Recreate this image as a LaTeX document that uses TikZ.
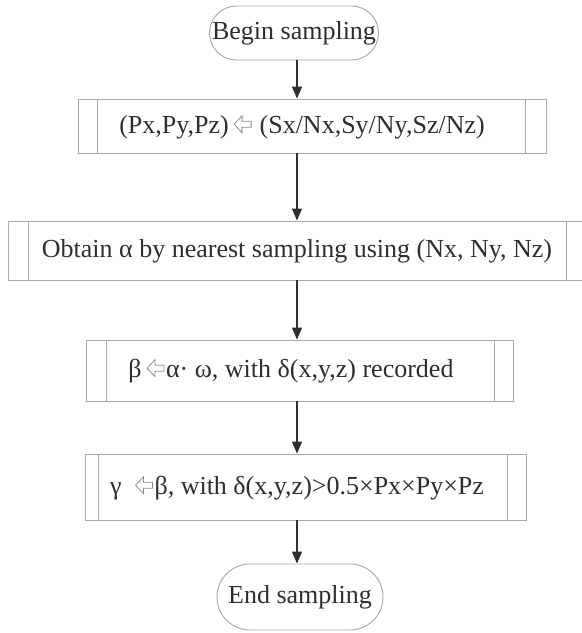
\documentclass[tikz,border=0pt]{standalone}
\usepackage{fontspec}
\setmainfont{Liberation Serif}
\usetikzlibrary{arrows.meta}

\definecolor{boxgrey}{HTML}{A8A8A8}
\definecolor{inkgrey}{HTML}{2E2E2E}
\definecolor{arrowgrey}{HTML}{8C8C8C}

% hollow leftwards arrow used for assignment, built as a small pgf picture
\newsavebox{\assignbox}
\newcommand{\assign}{\usebox{\assignbox}}

\tikzset{
  lin/.store in=\lin, rin/.store in=\rin, lin=19pt, rin=19pt,
  terminal/.style={draw=boxgrey, line width=0.9pt, minimum width=#1, minimum height=54pt,
    rounded corners=27pt, inner sep=0pt, text=inkgrey},
  procbox/.style={draw=boxgrey, line width=0.9pt, inner sep=0pt,
    path picture={
      \draw[boxgrey, line width=0.9pt]
        ([xshift=\lin]path picture bounding box.north west) --
        ([xshift=\lin]path picture bounding box.south west);
      \draw[boxgrey, line width=0.9pt]
        ([xshift=-\rin]path picture bounding box.north east) --
        ([xshift=-\rin]path picture bounding box.south east);
    }},
  label text/.style={text=inkgrey, inner sep=0pt},
  flow/.style={draw=inkgrey, line width=1.3pt, -{Triangle[length=12pt,width=10pt]}},
}

\begin{document}
\sbox{\assignbox}{\begin{pgfpicture}
  \pgfpathrectangle{\pgfpoint{-1pt}{0pt}}{\pgfpoint{20pt}{19pt}}
  \pgfusepath{use as bounding box}
  \pgfpathmoveto{\pgfpoint{0pt}{9.5pt}}
  \pgfpathlineto{\pgfpoint{8pt}{18pt}}
  \pgfpathlineto{\pgfpoint{8pt}{12.5pt}}
  \pgfpathlineto{\pgfpoint{17pt}{12.5pt}}
  \pgfpathlineto{\pgfpoint{17pt}{6.5pt}}
  \pgfpathlineto{\pgfpoint{8pt}{6.5pt}}
  \pgfpathlineto{\pgfpoint{8pt}{1pt}}
  \pgfpathclose
  \pgfsetlinewidth{0.8pt}
  \pgfsetmiterjoin
  \pgfsetstrokecolor{arrowgrey}
  \pgfusepath{stroke}
\end{pgfpicture}}
\begin{tikzpicture}[x=1pt, y=-1pt, font=\fontsize{26pt}{30pt}\selectfont]
  \useasboundingbox (0,0) rectangle (582,633);

  \coordinate (spine) at (297,0);

  % start terminal
  \node[terminal=169pt] (begin) at (294,33) {Begin sampling};

  % processing steps
  \node[procbox, lin=19pt, rin=21pt, minimum width=468pt, minimum height=54pt] (p1) at (312,126) {};
  \node[label text] (t1) at (302,127) {(Px,Py,Pz)\,\assign\ (Sx/Nx,Sy/Ny,Sz/Nz)};

  \node[procbox, lin=20pt, rin=18pt, minimum width=576pt, minimum height=59pt] (p2) at (296,250.5) {};
  \node[label text] (t2) at (297,251) {Obtain α by nearest sampling using (Nx, Ny, Nz)};

  \node[procbox, lin=20pt, rin=19pt, minimum width=427pt, minimum height=61pt] (p3) at (299.5,370.5) {};
  \node[label text] (t3) at (291,371) {β\,\assign α· ω, with δ(x,y,z) recorded};

  \node[procbox, lin=13pt, rin=19pt, minimum width=441pt, minimum height=66pt] (p4) at (305.5,487) {};
  \node[label text] (t4) at (297,488) {γ\ \ \assign β, with δ(x,y,z)>0.5×Px×Py×Pz};

  % end terminal
  \node[terminal=166pt, minimum height=66pt, rounded corners=33pt] (end) at (300,597) {End sampling};

  % connectors
  \draw[flow] (begin.south -| spine) -- (p1.north -| spine);
  \draw[flow] (p1.south -| spine) -- (p2.north -| spine);
  \draw[flow] (p2.south -| spine) -- (p3.north -| spine);
  \draw[flow] (p3.south -| spine) -- (p4.north -| spine);
  \draw[flow] (p4.south -| spine) -- (end.north -| spine);
\end{tikzpicture}
\end{document}
